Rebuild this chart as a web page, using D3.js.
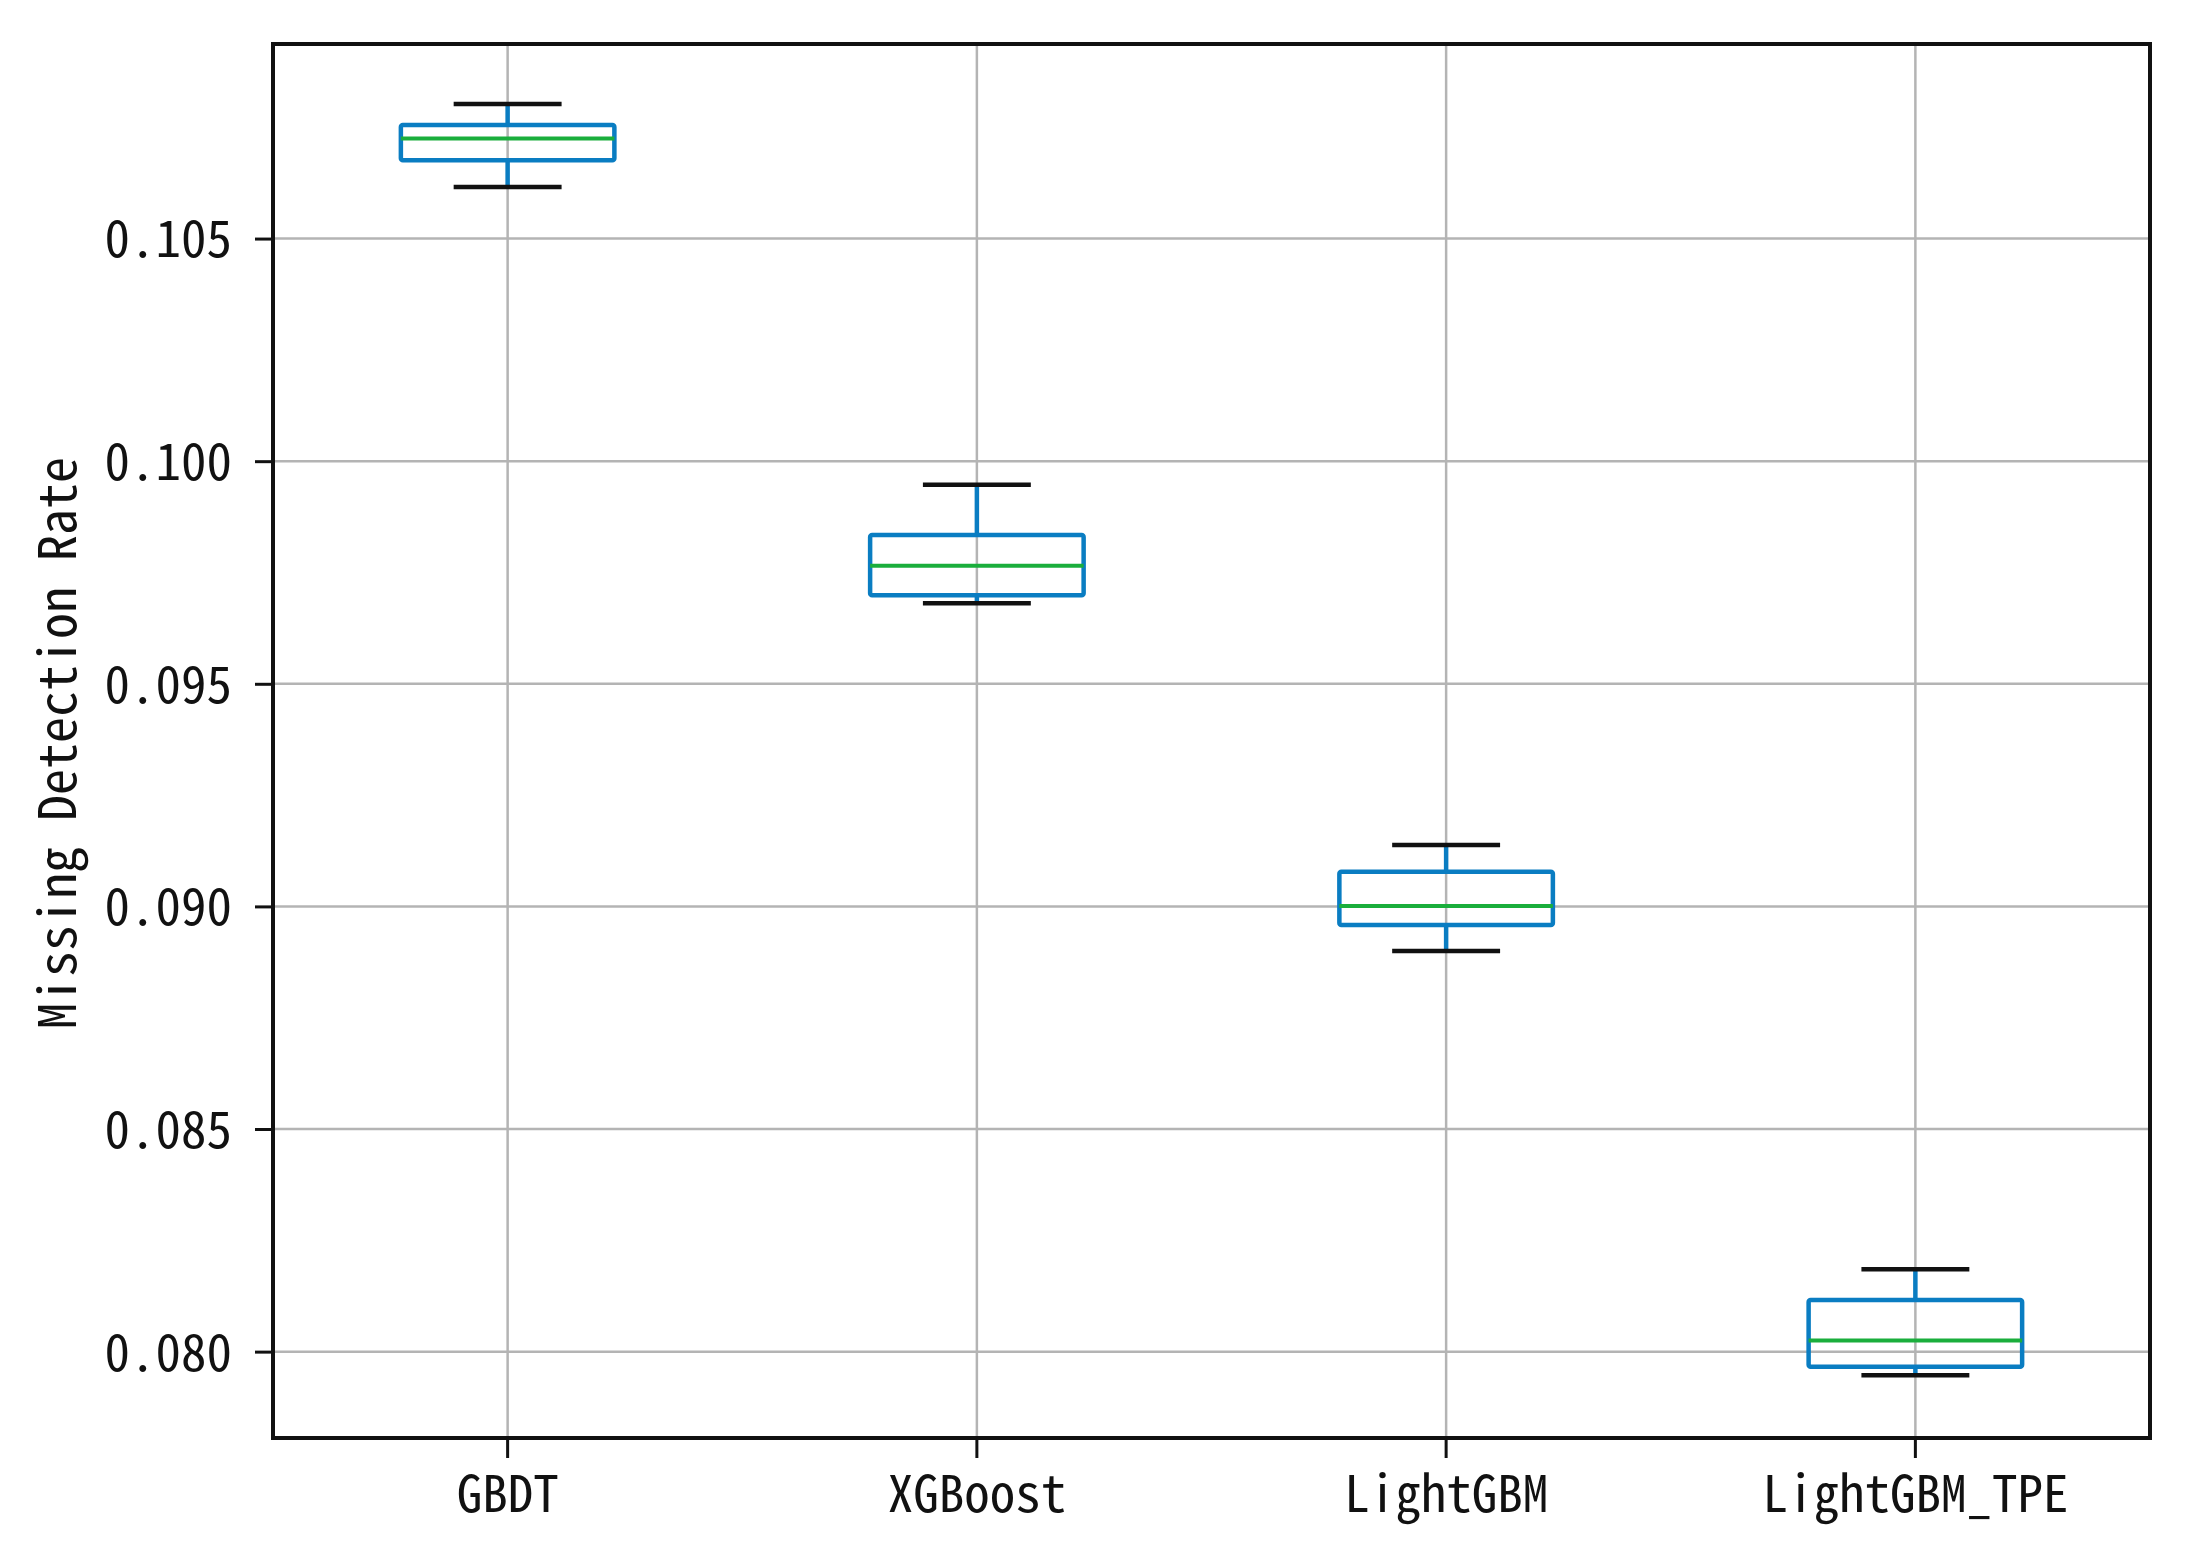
<!DOCTYPE html>
<html>
<head>
<meta charset="utf-8">
<script src="https://cdn.jsdelivr.net/npm/d3@7"></script>
<style>
  html, body { margin: 0; padding: 0; background: #fff; }
  svg { display: block; }
  .lbl { font-family: "Noto Sans Mono CJK SC", "Noto Sans Mono CJK JP", "Liberation Mono", monospace; fill: #111; }
</style>
</head>
<body>
<svg id="chart" width="2208" height="1558"></svg>
<script>
// ---- data ----
const categories   = ["GBDT", "XGBoost", "LightGBM", "LightGBM_TPE"];
const whiskerLow   = [0.10616, 0.09681, 0.08900, 0.07947];
const q1Values     = [0.10676, 0.09699, 0.08958, 0.07966];
const medianValues = [0.10725, 0.09765, 0.09001, 0.08025];
const q3Values     = [0.10755, 0.09834, 0.09078, 0.08116];
const whiskerHigh  = [0.10802, 0.09947, 0.09138, 0.08185];
const yTickValues  = [0.080, 0.085, 0.090, 0.095, 0.100, 0.105];
const yDomain      = [0.07806, 0.10937];
const yLabel = "Missing Detection Rate";

const W = 2208, H = 1558;
const margin = { top: 44, right: 58, bottom: 120, left: 273 };
const iw = W - margin.left - margin.right;
const ih = H - margin.top - margin.bottom;

const svg = d3.select("#chart");
const g = svg.append("g").attr("transform", `translate(${margin.left},${margin.top})`);

const y = d3.scaleLinear().domain(yDomain).range([ih, 0]);
const x = d3.scaleBand().domain(categories).range([0, iw]).paddingInner(0).paddingOuter(0);
const step = x.step();
const cx = c => x(c) + x.bandwidth() / 2;

// grid
g.append("g").selectAll("line").data(yTickValues).join("line")
  .attr("x1", 0).attr("x2", iw).attr("y1", d => y(d)).attr("y2", d => y(d))
  .attr("stroke", "#b4b4b4").attr("stroke-width", 2.5);
g.append("g").selectAll("line").data(categories).join("line")
  .attr("x1", d => cx(d)).attr("x2", d => cx(d)).attr("y1", 0).attr("y2", ih)
  .attr("stroke", "#b4b4b4").attr("stroke-width", 2.5);

// boxes
const boxW = step * 0.455, capW = step * 0.23;
const blue = "#0a7dc2", green = "#1aae3c";
const rows = categories.map((c, i) => ({ c, lo: whiskerLow[i], q1: q1Values[i], med: medianValues[i], q3: q3Values[i], hi: whiskerHigh[i] }));
const bx = g.append("g").selectAll("g").data(rows).join("g");
bx.append("line").attr("x1", d => cx(d.c)).attr("x2", d => cx(d.c))
  .attr("y1", d => y(d.hi)).attr("y2", d => y(d.q3)).attr("stroke", blue).attr("stroke-width", 4.5);
bx.append("line").attr("x1", d => cx(d.c)).attr("x2", d => cx(d.c))
  .attr("y1", d => y(d.q1)).attr("y2", d => y(d.lo)).attr("stroke", blue).attr("stroke-width", 4.5);
bx.append("line").attr("x1", d => cx(d.c) - capW / 2).attr("x2", d => cx(d.c) + capW / 2)
  .attr("y1", d => y(d.hi)).attr("y2", d => y(d.hi)).attr("stroke", "#111").attr("stroke-width", 4.5);
bx.append("line").attr("x1", d => cx(d.c) - capW / 2).attr("x2", d => cx(d.c) + capW / 2)
  .attr("y1", d => y(d.lo)).attr("y2", d => y(d.lo)).attr("stroke", "#111").attr("stroke-width", 4.5);
bx.append("rect").attr("x", d => cx(d.c) - boxW / 2).attr("width", boxW)
  .attr("y", d => y(d.q3)).attr("height", d => y(d.q1) - y(d.q3))
  .attr("fill", "none").attr("stroke", blue).attr("stroke-width", 4.5).attr("rx", 2);
bx.append("line").attr("x1", d => cx(d.c) - boxW / 2).attr("x2", d => cx(d.c) + boxW / 2)
  .attr("y1", d => y(d.med)).attr("y2", d => y(d.med)).attr("stroke", green).attr("stroke-width", 4);

// axes
const yAxis = d3.axisLeft(y).tickValues(yTickValues).tickFormat(d3.format(".3f")).tickSize(18).tickPadding(23);
const yg = g.append("g").call(yAxis);
yg.select(".domain").remove();
yg.selectAll(".tick line").attr("stroke", "#111").attr("stroke-width", 3);
yg.selectAll(".tick text").attr("class", "lbl").attr("font-size", 51).attr("dy", "0.36em");

const xAxis = d3.axisBottom(x).tickSize(20).tickPadding(17);
const xg = g.append("g").attr("transform", `translate(0,${ih})`).call(xAxis);
xg.select(".domain").remove();
xg.selectAll(".tick line").attr("stroke", "#111").attr("stroke-width", 3);
xg.selectAll(".tick text").attr("class", "lbl").attr("font-size", 51).attr("dy", "0.72em");

// frame
g.append("rect").attr("x", 0).attr("y", 0).attr("width", iw).attr("height", ih)
  .attr("fill", "none").attr("stroke", "#111").attr("stroke-width", 4);

// y label
svg.append("text").attr("class", "lbl")
  .attr("transform", `translate(53,743) rotate(-90)`)
  .attr("text-anchor", "middle").attr("dominant-baseline", "central")
  .attr("font-size", 52).text(yLabel);
</script>
</body>
</html>
